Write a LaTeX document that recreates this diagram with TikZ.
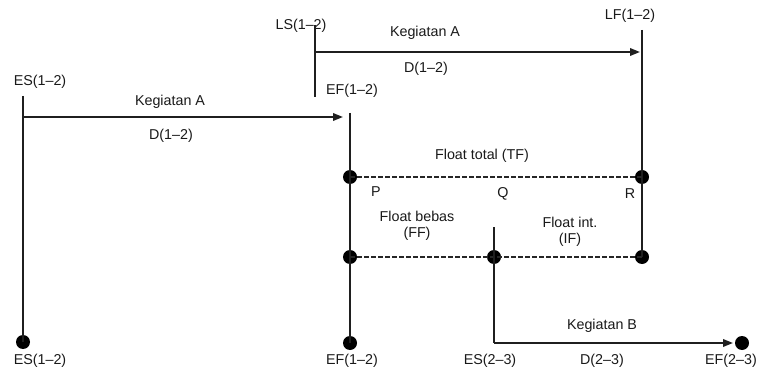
\documentclass[tikz,border=0pt]{standalone}
\usepackage{fontspec}
\setmainfont{Liberation Sans}
\usetikzlibrary{arrows.meta}
\begin{document}
\begin{tikzpicture}[x=1pt,y=-1pt,
  lbl/.style={inner sep=0pt,font=\fontsize{14.3}{16}\selectfont,text=black!90},
  ln/.style={line width=1.9pt,draw=black!88},
  arr/.style={ln,-{Triangle[length=10pt,width=7.5pt]}},
  dsh/.style={line width=1.4pt,draw=black!85,dash pattern=on 4.5pt off 2.5pt},
  dotc/.style={circle,fill=black,inner sep=0pt,minimum size=14pt}]
\useasboundingbox (0,0) rectangle (760,374);
% labels
\node[lbl] (esT) at (40,82) {ES(1--2)};
\node[lbl] (esB) at (40,361) {ES(1--2)};
\node[lbl] (ls) at (301,26) {LS(1--2)};
\node[lbl] (lf) at (630,16) {LF(1--2)};
\node[lbl] (efT) at (352,91) {EF(1--2)};
\node[lbl] (efB) at (352,361) {EF(1--2)};
\node[lbl] (kA1) at (170,102) {Kegiatan A};
\node[lbl] (dA1) at (171,136) {D(1--2)};
\node[lbl] (kA2) at (425,33) {Kegiatan A};
\node[lbl] (dA2) at (426,69) {D(1--2)};
\node[lbl] (tf) at (482,156) {Float total (TF)};
\node[lbl] (p) at (376,192) {P};
\node[lbl] (q) at (503,194) {Q};
\node[lbl] (r) at (630,194) {R};
\node[lbl,align=center] (ff) at (417,226) {Float bebas\\(FF)};
\node[lbl,align=center] (if) at (570,232) {Float int.\\(IF)};
\node[lbl] (kB) at (602,326) {Kegiatan B};
\node[lbl] (es23) at (490,361) {ES(2--3)};
\node[lbl] (d23) at (602,361) {D(2--3)};
\node[lbl] (ef23) at (731,361) {EF(2--3)};
% coordinates
\coordinate (l1t) at (23,96);
\coordinate (a1s) at (23,117);
\coordinate (a1e) at (343,117);
\coordinate (l2t) at (350,113);
\coordinate (lst) at (315,25);
\coordinate (lsb) at (315,97);
\coordinate (a2s) at (315,52);
\coordinate (a2e) at (640,52);
\coordinate (lft) at (642,30);
\coordinate (qt) at (494,227);
\coordinate (qc) at (494,343);
\coordinate (bEnd) at (733,343);
% dots
\node[dotc] (d1) at (23,342) {};
\node[dotc] (d2) at (350,343) {};
\node[dotc] (P) at (350,177) {};
\node[dotc] (R) at (642,177) {};
\node[dotc] (P2) at (350,257) {};
\node[dotc] (Q2) at (494,257) {};
\node[dotc] (R2) at (642,257) {};
\node[dotc] (eB) at (742,343) {};
% lines
\draw[ln] (l1t) -- (d1.center);
\draw[arr] (a1s) -- (a1e);
\draw[ln] (l2t) -- (d2.center);
\draw[ln] (lst) -- (lsb);
\draw[arr] (a2s) -- (a2e);
\draw[ln] (lft) -- (R2.center);
\draw[dsh] (P.center) -- (R.center);
\draw[dsh] (P2.center) -- (R2.center);
\draw[ln] (qt) -- (Q2.center) -- (qc);
\draw[arr] (qc) -- (bEnd);
\end{tikzpicture}
\end{document}
